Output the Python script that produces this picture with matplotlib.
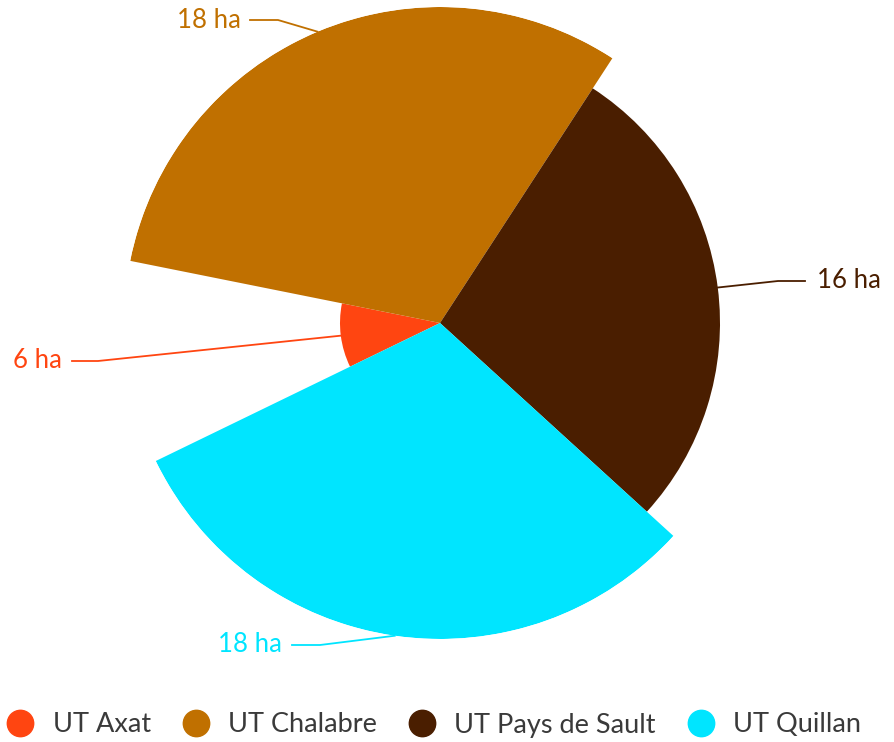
import numpy as np
from matplotlib import pyplot as plt
from matplotlib.lines import Line2D

plt.rcParams['font.family'] = ['Lato', 'DejaVu Sans']

categorias = ['UT Axat', 'UT Chalabre', 'UT Pays de Sault', 'UT Quillan']
valores = [6, 18, 16, 18]
etiquetas = ['6 ha', '18 ha', '16 ha', '18 ha']
colores = ['#FF4511', '#C07000', '#4A1E00', '#00E5FF']

W, H = 894, 742
fig = plt.figure(figsize=(W / 100, H / 100), dpi=100)

# centro del pie en pixeles (origen arriba-izquierda) y radios min/max
cx, cy = 440, 323
rmin, rmax = 100, 316
ax = fig.add_axes([(cx - rmax) / W, (H - cy - rmax) / H, 2 * rmax / W, 2 * rmax / H],
                  projection='polar')

vals = np.array(valores, dtype=float)
anchos = vals / vals.sum() * 2 * np.pi
inicio = np.deg2rad(244.1)
bordes = inicio + np.concatenate([[0], np.cumsum(anchos)[:-1]])
radios = rmin + (vals - vals.min()) / (vals.max() - vals.min()) * (rmax - rmin)

ax.set_theta_zero_location('N')
ax.set_theta_direction(-1)
ax.bar(bordes, radios, width=anchos, bottom=0, align='edge', color=colores,
       edgecolor='none', linewidth=0)
ax.set_ylim(0, rmax)
ax.set_axis_off()

# etiquetas: (x texto, y, alineacion, x inicio linea, x codo)
pos_etq = [
    (62, 361, 'right', 72, 98),
    (241, 20, 'right', 250, 278),
    (817, 281, 'left', 805, 778),
    (282, 645, 'right', 292, 320),
]

fig.canvas.draw()
for i, (tx, ty, ha, lx0, lx1) in enumerate(pos_etq):
    medio = bordes[i] + anchos[i] / 2
    px, py = ax.transData.transform((medio, radios[i]))
    fig.text(tx / W, (H - ty) / H, etiquetas[i], color=colores[i], fontsize=18.5,
             ha=ha, va='center')
    fig.add_artist(Line2D([lx0 / W, lx1 / W, px / W],
                          [(H - ty) / H, (H - ty) / H, py / H],
                          transform=fig.transFigure, color=colores[i], lw=1.3))

handles = [Line2D([], [], marker='o', ls='none', markersize=19, color=c) for c in colores]
fig.legend(handles, categorias, loc='center', bbox_to_anchor=(434 / W, (H - 725) / H),
           ncol=4, frameon=False, fontsize=19.5, labelcolor='#3a3a3a',
           handletextpad=0.7, columnspacing=1.15, handlelength=1.0, borderpad=0)

fig.savefig('out.png', dpi=100)
